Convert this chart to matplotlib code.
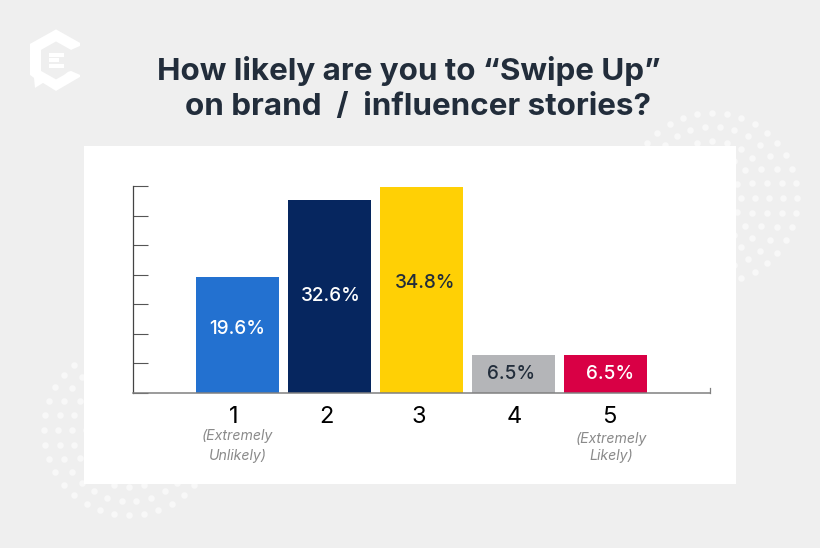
import numpy as np
import matplotlib
matplotlib.use("Agg")
import matplotlib.pyplot as plt
from matplotlib.patches import Polygon, Rectangle
from matplotlib.transforms import ScaledTranslation

# Données
categories = [1, 2, 3, 4, 5]
tick_labels = ["1", "2", "3", "4", "5"]
values = [19.6, 32.6, 34.8, 6.5, 6.5]
value_labels = ["19.6%", "32.6%", "34.8%", "6.5%", "6.5%"]
bar_colors = ["#2371d0", "#06265f", "#ffd005", "#b4b5b8", "#d90045"]
text_colors = ["white", "white", "#222d3b", "#222d3b", "white"]
y_ticks = [0, 5, 10, 15, 20, 25, 30, 35]

DPI = 100
W, H = 820, 548
BG = "#efefef"
DOT = "#f8f8f8"

fig = plt.figure(figsize=((W + 0.1) / DPI, (H + 0.1) / DPI), dpi=DPI, facecolor=BG)

# fond en pixels : points, panneau blanc, logo, titre
bg = fig.add_axes([0, 0, 1, 1])
bg.set_xlim(0, W)
bg.set_ylim(H, 0)
bg.axis("off")


def dot_circle(cx, cy):
    for r, n in [(85, 36), (71, 30), (57, 24), (43, 18), (28.5, 12)]:
        a = np.arange(n) * 2 * np.pi / n
        bg.scatter(cx + r * np.cos(a), cy + r * np.sin(a), s=22, color=DOT, linewidths=0, zorder=1)


dot_circle(712, 198)
dot_circle(129, 430)
bg.add_patch(Rectangle((84, 146), 652, 338.5, facecolor="white", edgecolor="none", zorder=2))

logo = [(56, 29.5), (80, 43), (80, 46), (71, 50), (56, 41.5), (41, 50), (41, 71), (56, 79.5),
        (64, 75), (68, 72), (71, 71), (80, 75), (80, 77), (56, 91), (43, 83), (35, 88),
        (34, 78), (30, 75), (30, 44)]
bg.add_patch(Polygon(logo, closed=True, facecolor="white", edgecolor="none", zorder=2))
for x0, y0, x1, y1 in [(49, 53, 64, 57), (49, 58, 59, 62), (49, 64, 64, 68)]:
    bg.add_patch(Rectangle((x0, y0), x1 - x0, y1 - y0, facecolor="white", edgecolor="none", zorder=2))

bg.text(157, 80, "How likely are you to “Swipe Up”", ha="left", va="baseline",
        fontsize=22.6, fontweight="bold", family="Inter", color="#222d3b", zorder=3)
bg.text(185, 115, "on brand  /  influencer stories?", ha="left", va="baseline",
        fontsize=22.6, fontweight="bold", family="Inter", color="#222d3b", zorder=3)

# graphique : x de 133 à 710 px, y de 393 à 186 px
ax = fig.add_axes([133 / W, 1 - 393 / H, (710 - 133) / W, (393 - 186) / H])
ax.patch.set_alpha(0)
ax.set_xlim(1 - 104.5 / 92, 1 + 472.5 / 92)
ax.set_ylim(0, 35)
ax.bar(categories, values, width=83.5 / 92, color=bar_colors, linewidth=0, zorder=2)

# décalages des étiquettes en pixels
label_dy = [6, 1, 7, 0, 0]
label_dx = [0, 1, 4, -3, 4]
for c, v, t, col, dx, dy in zip(categories, values, value_labels, text_colors, label_dx, label_dy):
    ax.annotate(t, (c, v / 2), xytext=(dx, dy), textcoords="offset pixels", ha="center", va="center",
                fontsize=13.6, fontweight="medium", family="Inter", color=col, zorder=3)

ax.set_yticks(y_ticks)
ax.set_yticklabels([])
ax.tick_params(axis="y", direction="in", length=10.8, width=0.8, color="#555555")
ax.set_xticks(categories)
ax.set_xticklabels(tick_labels, fontsize=17, family="Inter", color="black")
ax.tick_params(axis="x", length=0, pad=9)
tick_dx = [-3.5, -3.5, -3, 0.5, 3.5]
for lab, dx in zip(ax.get_xticklabels(), tick_dx):
    lab.set_transform(lab.get_transform() + ScaledTranslation(dx / DPI, 0, fig.dpi_scale_trans))

ax.spines["top"].set_visible(False)
ax.spines["left"].set_color("#444444")
ax.spines["left"].set_linewidth(0.9)
ax.spines["bottom"].set_color("#808080")
ax.spines["bottom"].set_linewidth(1.1)
ax.spines["right"].set_color("#808080")
ax.spines["right"].set_linewidth(0.9)
ax.spines["right"].set_bounds(0, 0.85)

# notes sous les graduations
note = dict(ha="center", va="center", fontsize=10.2, style="italic", family="Inter", color="#8a8a8a", zorder=3)
bg.text(237, 436, "(Extremely", **note)
bg.text(237, 456, "Unlikely)", **note)
bg.text(611, 439, "(Extremely", **note)
bg.text(611, 456, "Likely)", **note)

fig.savefig("out.png", dpi=DPI, facecolor=BG)
